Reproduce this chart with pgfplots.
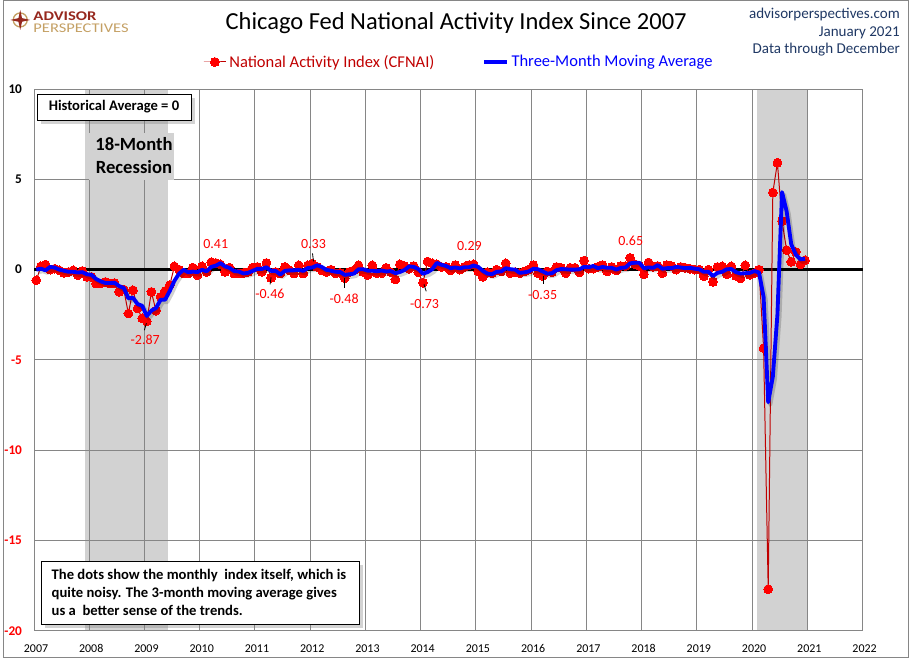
\documentclass[border=0pt]{standalone}
\usepackage{fontspec}
\setmainfont{Carlito}
\usepackage{graphicx}
\usepackage{pgfplots}
\pgfplotsset{compat=1.18}
\usepackage{pgfplotstable}
\usetikzlibrary{shadows}

\definecolor{cfdot}{RGB}{255,0,0}
\definecolor{cfline}{RGB}{192,0,0}
\definecolor{legred}{RGB}{192,0,0}
\definecolor{mablue}{RGB}{0,0,255}
\definecolor{gridgray}{RGB}{134,134,134}
\definecolor{shade}{RGB}{210,210,210}
\definecolor{navy}{RGB}{31,56,100}
\definecolor{logored}{RGB}{150,40,30}
\definecolor{logotan}{RGB}{196,160,100}

\pgfplotstableread{
i cf ma
0 -0.59 0.00
1 0.18 0.05
2 0.28 -0.04
3 0.00 0.15
4 0.05 0.11
5 -0.04 0.00
6 -0.18 -0.06
7 -0.13 -0.12
8 -0.04 -0.12
9 -0.31 -0.16
10 -0.07 -0.14
11 -0.40 -0.26
12 -0.40 -0.29
13 -0.77 -0.52
14 -0.77 -0.65
15 -0.68 -0.74
16 -0.77 -0.74
17 -0.74 -0.73
18 -1.23 -0.91
19 -1.10 -1.02
20 -2.43 -1.59
21 -1.14 -1.56
22 -2.15 -1.91
23 -2.70 -2.00
24 -2.87 -2.57
25 -1.23 -2.27
26 -2.28 -2.13
27 -1.51 -1.67
28 -1.18 -1.66
29 -0.86 -1.18
30 0.18 -0.62
31 0.00 -0.23
32 -0.22 -0.01
33 -0.22 -0.15
34 0.11 -0.11
35 -0.31 -0.14
36 0.18 -0.01
37 -0.13 -0.09
38 0.41 0.15
39 0.37 0.22
40 0.29 0.36
41 -0.13 0.18
42 0.11 0.09
43 -0.22 -0.08
44 -0.22 -0.11
45 -0.18 -0.21
46 -0.13 -0.18
47 0.11 -0.07
48 0.15 0.04
49 -0.13 0.04
50 0.37 0.13
51 -0.46 -0.07
52 -0.13 -0.07
53 -0.22 -0.27
54 0.15 -0.07
55 -0.04 -0.04
56 -0.22 -0.04
57 0.24 -0.01
58 -0.22 -0.07
59 0.24 0.09
60 0.33 0.12
61 0.15 0.24
62 -0.04 0.15
63 -0.13 -0.01
64 0.00 -0.06
65 -0.22 -0.12
66 -0.18 -0.13
67 -0.48 -0.29
68 -0.13 -0.26
69 -0.04 -0.22
70 0.24 0.02
71 -0.13 0.02
72 -0.30 -0.06
73 0.24 -0.06
74 -0.20 -0.09
75 -0.20 -0.05
76 0.10 -0.10
77 -0.15 -0.08
78 -0.55 -0.20
79 0.30 -0.13
80 0.20 -0.02
81 0.05 0.18
82 0.20 0.15
83 -0.15 0.03
84 -0.73 -0.23
85 0.45 -0.14
86 0.35 0.02
87 0.30 0.37
88 0.15 0.27
89 0.15 0.20
90 -0.05 0.08
91 0.25 0.12
92 0.00 0.07
93 0.15 0.13
94 0.25 0.13
95 0.29 0.23
96 -0.10 0.15
97 -0.40 -0.07
98 -0.15 -0.22
99 -0.20 -0.25
100 0.00 -0.12
101 -0.10 -0.10
102 0.35 0.08
103 -0.20 0.02
104 -0.15 0.00
105 -0.20 -0.18
106 -0.10 -0.15
107 0.00 -0.10
108 0.25 0.05
109 -0.20 0.02
110 -0.35 -0.10
111 -0.10 -0.22
112 -0.15 -0.20
113 0.15 -0.03
114 0.10 0.03
115 -0.20 0.02
116 0.10 0.00
117 0.10 0.00
118 -0.15 0.02
119 0.50 0.15
120 0.05 0.13
121 0.05 0.20
122 0.15 0.08
123 0.25 0.15
124 -0.10 0.10
125 0.15 0.10
126 -0.05 0.00
127 0.20 0.10
128 0.20 0.12
129 0.65 0.35
130 0.30 0.38
131 0.20 0.38
132 -0.25 0.08
133 0.40 0.12
134 0.15 0.10
135 0.20 0.25
136 -0.20 0.05
137 0.25 0.08
138 0.20 0.08
139 0.00 0.15
140 0.15 0.12
141 0.10 0.08
142 0.05 0.10
143 0.00 0.05
144 0.00 0.02
145 -0.37 -0.12
146 0.00 -0.12
147 -0.68 -0.35
148 0.15 -0.18
149 0.18 -0.12
150 -0.26 0.02
151 0.18 0.03
152 -0.35 -0.14
153 -0.49 -0.22
154 0.24 -0.20
155 -0.29 -0.18
156 -0.20 -0.08
157 0.00 -0.16
158 -4.35 -1.52
159 -17.70 -7.35
160 4.27 -5.93
161 5.92 -2.50
162 2.69 4.29
163 1.08 3.23
164 0.43 1.40
165 0.98 0.83
166 0.29 0.57
167 0.52 0.60
}\cfnai

\begin{document}
\begin{tikzpicture}
% page frame (1px = 0.75pt)
\begin{scope}[x=0.75pt,y=0.75pt]
\useasboundingbox (0,0) rectangle (909,660);
\draw[gridgray, line width=0.75pt] (1,1) rectangle (908,659);
\end{scope}

\begin{axis}[
  at={(23.85pt,20.775pt)}, anchor=south west,
  scale only axis, width=623pt, height=407.25pt,
  xmin=2007, xmax=2022, ymin=-20, ymax=10,
  xtick={2007,2008,...,2022},
  xticklabels={2007,2008,2009,2010,2011,2012,2013,2014,2015,2016,2017,2018,2019,2020,2021,2022},
  ytick={-20,-15,-10,-5,0,5,10},
  yticklabels={\textcolor{red}{-20},\textcolor{red}{-15},\textcolor{red}{-10},\textcolor{red}{-5},0,5,10},
  /pgf/number format/assume math mode=true,
  grid=major,
  major grid style={draw=gridgray, line width=0.75pt},
  axis line style={draw=gridgray, line width=0.75pt},
  major tick length=0pt,
  xticklabel style={font=\fontsize{9}{11}\selectfont, yshift=-7pt, xshift=1.5pt},
  yticklabel style={font=\fontsize{10}{12}\selectfont\bfseries, xshift=-5.5pt},
  set layers,
  clip=false,
  clip marker paths=true,
  legend style={at={(0.513,1.050)}, anchor=center, draw=none, fill=none,
    legend columns=2, font=\fontsize{12.4}{14}\selectfont, inner sep=0pt,
    /tikz/every even column/.append style={column sep=34pt}},
  legend cell align=left,
]
\addplot[fill=shade, draw=none, on layer=axis background, forget plot]
  coordinates {(2007.93,-20) (2007.93,10) (2009.42,10) (2009.42,-20)} -- cycle;
\addplot[fill=shade, draw=none, on layer=axis background, forget plot]
  coordinates {(2020.08,-20) (2020.08,10) (2021.0,10) (2021.0,-20)} -- cycle;
\addplot[black, line width=1.9pt, forget plot] coordinates {(2007,0) (2022,0)};
\addplot[cfline, line width=0.75pt, mark=*, mark size=3.3pt,
  mark options={fill=cfdot, draw=cfdot, line width=0pt}]
  table[x expr={2007+(\thisrow{i}+0.5)/12}, y=cf] {\cfnai};
\addlegendentry{\textcolor{legred}{National Activity Index (CFNAI)}}
\addplot[black, opacity=0.18, line width=3.2pt, xshift=1.5pt, yshift=-1.8pt, forget plot, line join=round]
  table[x expr={2007+(\thisrow{i}+0.5)/12}, y=ma] {\cfnai};
\addplot[mablue, line width=2.9pt, line join=round]
  table[x expr={2007+(\thisrow{i}+0.5)/12}, y=ma] {\cfnai};
\addlegendentry{\textcolor{mablue}{Three-Month Moving Average}}
\end{axis}

\begin{scope}[x=0.75pt,y=0.75pt]
% title and header texts
\node[anchor=base, font=\fontsize{18.4}{21}\selectfont] at (455,630) {Chicago Fed National Activity Index Since 2007};
\node[anchor=base east, font=\fontsize{11.3}{13}\selectfont, text=navy, inner sep=0pt] at (900,641) {advisorperspectives.com};
\node[anchor=base east, font=\fontsize{11.3}{13}\selectfont, text=navy, inner sep=0pt] at (900,623) {January 2021};
\node[anchor=base east, font=\fontsize{11.3}{13}\selectfont, text=navy, inner sep=0pt] at (900,606) {Data through December};
% logo
\draw[logotan, line width=1pt] (18,640) circle (7);
\fill[logored] (18,650) -- (19.8,641.8) -- (28,640) -- (19.8,638.2) -- (18,630) -- (16.2,638.2) -- (8,640) -- (16.2,641.8) -- cycle;
\node[anchor=base west, inner sep=0pt, text=logored, font=\fontsize{10}{11}\selectfont\bfseries] at (31,639.5) {\scalebox{1.25}[1]{ADVISOR}};
\node[anchor=base west, inner sep=0pt, text=logotan, font=\fontsize{10}{11}\selectfont] at (31,627.5) {\scalebox{1.24}[1]{PERSPECTIVES}};
% recession label
\node[fill=shade, minimum width=63.75pt, minimum height=35.25pt, inner sep=0pt] at (129.5,503.5) {};
\node[font=\fontsize{14}{17.5}\selectfont\bfseries, align=center, inner sep=0pt] at (132,504) {18-Month\\Recession};
% boxes
\node[draw=black, fill=white, line width=0.75pt, drop shadow={shadow xshift=2.5pt, shadow yshift=-2.5pt, opacity=0.35},
  minimum width=115.5pt, minimum height=19.5pt, inner sep=0pt, anchor=north west] at (35,566) {};
\node[font=\fontsize{11}{13}\selectfont\bfseries, inner sep=0pt] at (112,553) {Historical Average = 0};
\node[draw=black, fill=white, line width=0.75pt, drop shadow={shadow xshift=2.5pt, shadow yshift=-2.5pt, opacity=0.35},
  minimum width=238.5pt, minimum height=47.5pt, inner sep=0pt, anchor=north west] at (39.3,97.3) {};
\node[anchor=base west, inner sep=0pt, font=\fontsize{11}{13}\selectfont\bfseries] at (49.3,79) {The dots show the monthly\ \ index itself, which is};
\node[anchor=base west, inner sep=0pt, font=\fontsize{11}{13}\selectfont\bfseries] at (49.3,61) {quite noisy. The 3-month moving average gives};
\node[anchor=base west, inner sep=0pt, font=\fontsize{11}{13}\selectfont\bfseries] at (49.3,43) {us a\ \ better sense of the trends.};
% data labels
\begin{scope}[every node/.style={text=red, font=\fontsize{10.5}{12}\selectfont, inner sep=0pt}]
\node at (143.3,319.3) {-2.87};
\node at (214,415) {0.41};
\node at (268.3,365) {-0.46};
\node at (312,415) {0.33};
\node at (342.7,360) {-0.48};
\node at (423.3,355) {-0.73};
\node at (468.3,413.3) {0.29};
\node at (541.7,364) {-0.35};
\node at (630,419) {0.65};
\end{scope}
\begin{scope}[black, line width=0.6pt]
\draw (144.5,336) -- (142.5,329);
\draw (269.5,382) -- (268.5,375);
\draw (312,398) -- (311,406);
\draw (342.7,381) -- (342.7,371);
\draw (422.7,375) -- (425,368);
\draw (542.3,383) -- (542.3,375);
\end{scope}
\end{scope}
\end{tikzpicture}
\end{document}
